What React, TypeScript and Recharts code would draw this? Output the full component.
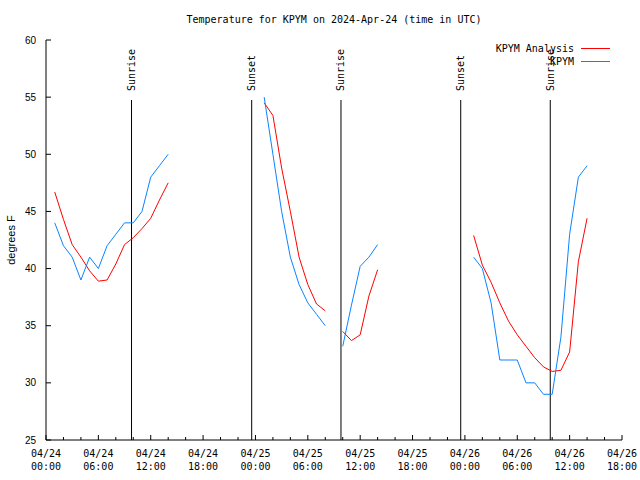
import React from 'react';
import { LineChart, Line, XAxis, YAxis, ReferenceLine, Legend } from 'recharts';

const MONO = '"DejaVu Sans Mono", "Liberation Mono", monospace';
const SANS = '"Liberation Sans", Arial, sans-serif';

// hours since 2024-04-24 00:00 UTC
const hours = [
  1, 2, 3, 4, 5, 6, 7, 8, 9, 10, 11, 12, 13, 14,
  25, 26, 27, 28, 29, 30, 31, 32,
  34, 35, 36, 37, 38,
  49, 50, 51, 52, 53, 54, 55, 56, 57, 58, 59, 60, 61, 62,
];
const analysisF = [
  46.7, 44.3, 42.1, 41.0, 39.8, 38.9, 39.0, 40.4, 42.1, 42.7, 43.5, 44.4, 46.0, 47.5,
  54.5, 53.4, 48.8, 45.0, 41.0, 38.6, 36.9, 36.3,
  34.5, 33.7, 34.2, 37.6, 39.9,
  42.9, 40.3, 38.8, 37.0, 35.4, 34.2, 33.2, 32.2, 31.4, 31.0, 31.1, 32.7, 40.6, 44.4,
];
const kpymF = [
  44, 42, 41, 39, 41, 40, 42, 43, 44, 44, 45, 48, 49, 50,
  55, 50, 45, 41, 38.6, 37, 36, 35,
  33.2, 36.8, 40.2, 41, 42.1,
  41, 40, 37, 32, 32, 32, 30, 30, 29, 29, 34, 43, 48, 49,
];

const sunTimes = [9.8, 23.57, 33.8, 47.52, 57.78];
const sunLabels = ['Sunrise', 'Sunset', 'Sunrise', 'Sunset', 'Sunrise'];
const sunLineTop = 54.75;

const seriesNames = ['KPYM Analysis', 'KPYM'];
const dayLabels = ['04/24', '04/25', '04/26'];
const xTicks = Array.from({ length: 34 }, (_, i) => i * 2);
const yTicks = [25, 30, 35, 40, 45, 50, 55, 60];

// break the lines where hours are missing
const chartData: { t: number; analysis: number | null; kpym: number | null }[] = [];
hours.forEach((t, i) => {
  if (i > 0 && t - hours[i - 1] > 1) {
    chartData.push({ t: (t + hours[i - 1]) / 2, analysis: null, kpym: null });
  }
  chartData.push({ t, analysis: analysisF[i], kpym: kpymF[i] });
});

function BottomTick({ x, y, payload }: any) {
  const t = payload.value;
  const major = t % 6 === 0;
  const hh = String(t % 24).padStart(2, '0');
  return (
    <g>
      <line x1={x} x2={x} y1={y} y2={y - (major ? 5 : 3)} stroke="#000" />
      {major && (
        <text textAnchor="middle" fontFamily={MONO} fontSize={10} fill="#000">
          <tspan x={x} y={y + 17}>{dayLabels[Math.floor(t / 24)]}</tspan>
          <tspan x={x} y={y + 30}>{hh}:00</tspan>
        </text>
      )}
    </g>
  );
}

function TopTick({ x, y, payload }: any) {
  const major = payload.value % 6 === 0;
  return <line x1={x} x2={x} y1={y} y2={y + (major ? 5 : 3)} stroke="#000" />;
}

function LeftTick({ x, y, payload }: any) {
  return (
    <g>
      <line x1={x} x2={x + 5} y1={y} y2={y} stroke="#000" />
      <text x={x - 10} y={y + 3.5} textAnchor="end" fontFamily={SANS} fontSize={10} fill="#000">
        {payload.value}
      </text>
    </g>
  );
}

function RightTick({ x, y }: any) {
  return <line x1={x} x2={x - 5} y1={y} y2={y} stroke="#000" />;
}

function yLabel(props: any) {
  const vb = props.viewBox;
  const x = vb ? vb.x + 11 : 11;
  const y = vb ? vb.y + vb.height / 2 : 240;
  return (
    <text
      x={x}
      y={y}
      transform={`rotate(-90 ${x} ${y})`}
      textAnchor="middle"
      dominantBaseline="central"
      fontFamily={SANS}
      fontSize={11}
      fill="#000"
    >
      degrees F
    </text>
  );
}

function sunShape(text: string) {
  return (props: any) => {
    const top = Math.min(props.y1, props.y2);
    const bottom = Math.max(props.y1, props.y2);
    const ty = top - 9;
    return (
      <g>
        <line x1={props.x1} x2={props.x2} y1={top} y2={bottom} stroke="#000" />
        <text
          x={props.x1}
          y={ty}
          transform={`rotate(-90 ${props.x1} ${ty})`}
          textAnchor="start"
          dominantBaseline="central"
          fontFamily={MONO}
          fontSize={10}
          fill="#000"
        >
          {text}
        </text>
      </g>
    );
  };
}

function LegendBox({ payload }: any) {
  const items = [...(payload || [])].sort(
    (a: any, b: any) => seriesNames.indexOf(a.value) - seriesNames.indexOf(b.value)
  );
  return (
    <div style={{ fontFamily: MONO, fontSize: 10, color: '#000' }}>
      {items.map((entry: any) => (
        <div
          key={entry.value}
          style={{ display: 'flex', justifyContent: 'flex-end', alignItems: 'center', height: 13 }}
        >
          <span style={{ whiteSpace: 'pre', lineHeight: '13px' }}>{entry.value}</span>
          <svg width={29} height={13} style={{ marginLeft: 7, marginRight: 10 }}>
            <line x1={0} x2={29} y1={6.5} y2={6.5} stroke={entry.color} />
          </svg>
        </div>
      ))}
    </div>
  );
}

export default function App() {
  return (
    <div style={{ position: 'absolute', left: 0, top: 0, width: 640, height: 480, background: '#fff' }}>
      <div
        style={{
          position: 'absolute',
          left: 46,
          width: 576,
          top: 13,
          lineHeight: '14px',
          textAlign: 'center',
          fontFamily: MONO,
          fontSize: 10,
          color: '#000',
          zIndex: 1,
        }}
      >
        Temperature for KPYM on 2024-Apr-24 (time in UTC)
      </div>
      <LineChart width={640} height={480} data={chartData} margin={{ top: 40, right: 18, bottom: 0, left: 0 }}>
        <XAxis
          dataKey="t"
          type="number"
          domain={[0, 66]}
          ticks={xTicks}
          interval={0}
          height={40}
          tickSize={0}
          tickMargin={0}
          tickLine={false}
          axisLine={{ stroke: '#000' }}
          tick={<BottomTick />}
          allowDataOverflow
        />
        <XAxis
          xAxisId="top"
          orientation="top"
          dataKey="t"
          type="number"
          domain={[0, 66]}
          ticks={xTicks}
          interval={0}
          height={0}
          tickSize={0}
          tickMargin={0}
          tickLine={false}
          axisLine={{ stroke: '#000' }}
          tick={<TopTick />}
          allowDataOverflow
        />
        <YAxis
          type="number"
          domain={[25, 60]}
          ticks={yTicks}
          interval={0}
          width={46}
          tickSize={0}
          tickMargin={0}
          tickLine={false}
          axisLine={{ stroke: '#000' }}
          tick={<LeftTick />}
          label={yLabel}
          allowDataOverflow
        />
        <YAxis
          yAxisId="right"
          orientation="right"
          type="number"
          domain={[25, 60]}
          ticks={yTicks}
          interval={0}
          width={0}
          tickSize={0}
          tickMargin={0}
          tickLine={false}
          axisLine={{ stroke: '#000' }}
          tick={<RightTick />}
          allowDataOverflow
        />
        {sunTimes.map((t, i) => (
          <ReferenceLine
            key={`sun-${i}`}
            segment={[{ x: t, y: 25 }, { x: t, y: sunLineTop }]}
            shape={sunShape(sunLabels[i])}
          />
        ))}
        <Line
          type="linear"
          dataKey="analysis"
          name={seriesNames[0]}
          stroke="#ff0000"
          strokeWidth={1}
          dot={false}
          activeDot={false}
          connectNulls={false}
          isAnimationActive={false}
        />
        <Line
          type="linear"
          dataKey="kpym"
          name={seriesNames[1]}
          stroke="#0a84ff"
          strokeWidth={1}
          dot={false}
          activeDot={false}
          connectNulls={false}
          isAnimationActive={false}
        />
        <Legend
          layout="horizontal"
          verticalAlign="middle"
          align="center"
          content={<LegendBox />}
          wrapperStyle={{ top: 42, left: 450, width: 170 }}
        />
      </LineChart>
    </div>
  );
}
